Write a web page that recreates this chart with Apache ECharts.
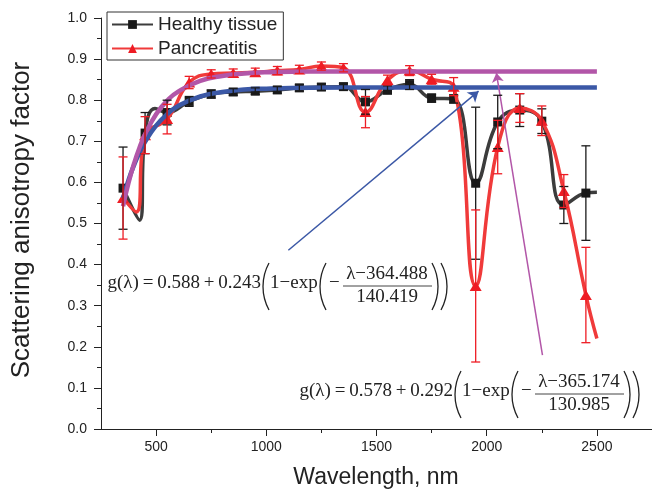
<!DOCTYPE html>
<html><head><meta charset="utf-8">
<script src="https://cdn.jsdelivr.net/npm/echarts@6/dist/echarts.min.js"></script>
<style>html,body{margin:0;padding:0;background:#fff}#c{width:652px;height:493px}</style>
</head><body><div id="c"></div>
<script>
// ---- data ----
const wavelengths = [350,450,550,650,750,850,950,1050,1150,1250,1350,1450,1550,1650,1750,1850,1950,2050,2150,2250,2350,2450];
const healthyG   = [0.586,0.720,0.770,0.797,0.815,0.820,0.822,0.825,0.830,0.832,0.833,0.796,0.825,0.838,0.805,0.803,0.598,0.747,0.776,0.749,0.545,0.574];
const healthyErr = [0.100,0.050,0.030,0.012,0.010,0.008,0.008,0.008,0.008,0.008,0.008,0.030,0.010,0.012,0.010,0.010,0.185,0.065,0.040,0.030,0.045,0.115];
const pancG      = [0.562,0.715,0.754,0.843,0.864,0.866,0.868,0.872,0.875,0.883,0.879,0.771,0.849,0.872,0.851,0.833,0.348,0.686,0.781,0.750,0.579,0.326];
const pancErr    = [0.100,0.045,0.036,0.015,0.010,0.010,0.010,0.010,0.010,0.010,0.010,0.038,0.012,0.012,0.012,0.022,0.185,0.065,0.035,0.036,0.040,0.116];
// extra points of the smoothed curves visible in the picture (no marker)
const healthyCurveExtra = [[425,0.508],[495,0.780],[2500,0.576]];
const pancCurveExtra    = [[410,0.528],[2500,0.220]];
// fitted curves, values
const fitX       = [350,375,400,425,450,500,550,600,700,800,900,1000,1200,1500,2000,2500];
const fitHealthy = [0.562,0.606,0.642,0.673,0.699,0.738,0.766,0.786,0.809,0.820,0.826,0.828,0.830,0.831,0.831,0.831];
const fitPanc    = [0.542,0.599,0.646,0.685,0.717,0.766,0.799,0.821,0.847,0.859,0.865,0.868,0.870,0.870,0.870,0.870];
const xMajorTicks = [500,1000,1500,2000,2500];
const xMinorTicks = [750,1250,1750,2250];
const seriesNames = ['Healthy tissue','Pancreatitis'];
const formula1 = {pre:'g(\u03bb)\u2009=\u20090.588\u2009+\u20090.243', num:'\u03bb\u2212364.488', den:'140.419'};
const formula2 = {pre:'g(\u03bb)\u2009=\u20090.578\u2009+\u20090.292', num:'\u03bb\u2212365.174', den:'130.985'};
const arrowBlue   = [[1100,0.435],[1963,0.822]];
const arrowPurple = [[2253,0.180],[2044,0.866]];

// ---- build ----
function curve(xs, ys, extra){
  const pts = xs.map((x,i)=>({value:[x,ys[i]]})).concat(extra.map(p=>({value:p, symbol:'none'})));
  pts.sort((a,b)=>a.value[0]-b.value[0]);
  return pts;
}
function errSeries(name, xs, ys, es, color){
  return {
    type:'custom', name:name, z:6, silent:true,
    data: xs.map((x,i)=>[x, ys[i]-es[i], ys[i]+es[i]]),
    encode:{x:0, y:[1,2]},
    renderItem:function(params, api){
      const lo = api.coord([api.value(0), api.value(1)]);
      const hi = api.coord([api.value(0), api.value(2)]);
      const w = 4.5, st = {stroke:color, lineWidth:1.3};
      return {type:'group', children:[
        {type:'line', shape:{x1:lo[0],y1:lo[1],x2:hi[0],y2:hi[1]}, style:st},
        {type:'line', shape:{x1:lo[0]-w,y1:lo[1],x2:lo[0]+w,y2:lo[1]}, style:st},
        {type:'line', shape:{x1:hi[0]-w,y1:hi[1],x2:hi[0]+w,y2:hi[1]}, style:st}
      ]};
    }
  };
}
const serif = '"Liberation Serif","Times New Roman",serif';
function paren(x, cy, left){
  const R = 49, a = 0.5;
  return left
    ? {type:'arc', shape:{cx:x+R, cy:cy, r:R, startAngle:Math.PI-a, endAngle:Math.PI+a}, style:{stroke:'#222', fill:null, lineWidth:1.3}}
    : {type:'arc', shape:{cx:x-R, cy:cy, r:R, startAngle:-a, endAngle:a}, style:{stroke:'#222', fill:null, lineWidth:1.3}};
}
function txt(x, y, s, align){
  return {type:'text', x:x, y:y, style:{text:s, font:'19px '+serif, fill:'#222', align:align||'left', verticalAlign:'middle'}};
}
function formula(f, dx, dy){
  const m = 283+dy, pc = 286.5+dy;
  return [
    txt(261+dx, m, f.pre, 'right'),
    paren(263+dx, pc, true),
    txt(270+dx, m, '1\u2212exp', 'left'),
    paren(320+dx, pc, true),
    txt(329+dx, m, '\u2212', 'left'),
    txt(387+dx, 274+dy, f.num, 'center'),
    {type:'line', shape:{x1:343+dx, y1:286+dy, x2:432+dx, y2:286+dy}, style:{stroke:'#444', lineWidth:1}},
    txt(387+dx, 297.5+dy, f.den, 'center'),
    paren(438+dx, pc, false),
    paren(447+dx, pc, false)
  ];
}

const chart = echarts.init(document.getElementById('c'), null, {renderer:'canvas'});
const axisCol = '#222';
chart.setOption({
  animation:false,
  backgroundColor:'#fff',
  grid:{left:101, right:0, top:18, bottom:64, containLabel:false, outerBoundsMode:'none'},
  legend:{
    data:seriesNames, orient:'vertical', left:107, top:12,
    itemWidth:41, itemHeight:11, itemGap:5, padding:[3,6,2,4],
    borderColor:'#333', borderWidth:1,
    textStyle:{fontSize:19, fontFamily:'"Liberation Sans",Arial,sans-serif', color:'#222'}
  },
  xAxis:[
    {type:'value', min:250, max:2750, position:'bottom',
     axisLine:{show:true, lineStyle:{color:axisCol, width:1}},
     axisTick:{show:true, length:7, customValues:xMajorTicks, lineStyle:{color:axisCol}},
     axisLabel:{customValues:xMajorTicks, color:axisCol, fontSize:14, fontFamily:'"Liberation Sans",Arial,sans-serif', margin:11, formatter:v=>String(v)},
     splitLine:{show:false}},
    {type:'value', min:250, max:2750, position:'bottom',
     axisLine:{show:false},
     axisTick:{show:true, length:4, customValues:xMinorTicks, lineStyle:{color:axisCol}},
     axisLabel:{show:false}, splitLine:{show:false}}
  ],
  yAxis:{type:'value', min:0, max:1, interval:0.1,
    axisLine:{show:true, lineStyle:{color:axisCol, width:1}},
    axisTick:{show:true, length:7, lineStyle:{color:axisCol}},
    minorTick:{show:true, splitNumber:2, length:4, lineStyle:{color:axisCol}},
    axisLabel:{color:axisCol, fontSize:14, fontFamily:'"Liberation Sans",Arial,sans-serif', margin:14, formatter:v=>v.toFixed(1)},
    splitLine:{show:false}},
  series:[
    {name:seriesNames[0], type:'line', smooth:0.45, z:2, data:curve(wavelengths, healthyG, healthyCurveExtra),
     symbol:'rect', symbolSize:9, lineStyle:{color:'#3c3c3c', width:3.5}, itemStyle:{color:'#1a1a1a'}},
    {name:seriesNames[1], type:'line', smooth:0.45, z:3, data:curve(wavelengths, pancG, pancCurveExtra),
     symbol:'triangle', symbolSize:[12,10], lineStyle:{color:'#f03a3a', width:3.5}, itemStyle:{color:'#ee1c24'}},
    errSeries('errH', wavelengths, healthyG, healthyErr, '#1a1a1a'),
    errSeries('errP', wavelengths, pancG, pancErr, '#ee1c24'),
    {name:'fitH', type:'line', smooth:true, z:4, showSymbol:false, symbol:'none',
     data:fitX.map((x,i)=>[x, fitHealthy[i]]), lineStyle:{color:'#3b58a6', width:4.5},
     markLine:{silent:true, symbol:['none','arrow'], symbolSize:10, label:{show:false},
       lineStyle:{color:'#3b58a6', width:1.5, type:'solid'},
       data:[[{coord:arrowBlue[0]},{coord:arrowBlue[1]}]]}},
    {name:'fitP', type:'line', smooth:true, z:4, showSymbol:false, symbol:'none',
     data:fitX.map((x,i)=>[x, fitPanc[i]]), lineStyle:{color:'#b256a8', width:4.5},
     markLine:{silent:true, symbol:['none','arrow'], symbolSize:9, label:{show:false},
       lineStyle:{color:'#b256a8', width:1.5, type:'solid'},
       data:[[{coord:arrowPurple[0]},{coord:arrowPurple[1]}]]}}
  ],
  graphic:[
    {type:'text', x:22, y:220, rotation:Math.PI/2,
     style:{text:'Scattering anisotropy factor', font:'26px "Liberation Sans",Arial,sans-serif', fill:'#222', align:'center', verticalAlign:'middle'}},
    {type:'text', x:376, y:478,
     style:{text:'Wavelength, nm', font:'23px "Liberation Sans",Arial,sans-serif', fill:'#222', align:'center', verticalAlign:'middle'}}
  ].concat(formula(formula1,0,0), formula(formula2,192,108))
});
</script></body></html>
